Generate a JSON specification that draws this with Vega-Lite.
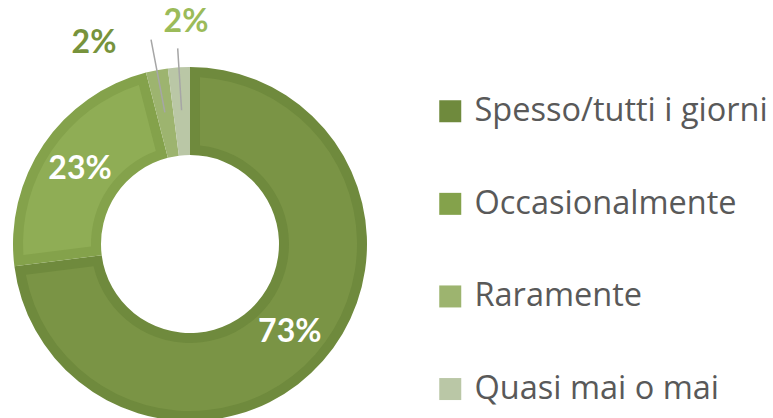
{
  "$schema": "https://vega.github.io/schema/vega-lite/v6.json",
  "width": 773,
  "height": 418,
  "padding": 0,
  "autosize": {"type": "none"},
  "background": "white",
  "data": {
    "values": [
      {"cat": "Spesso/tutti i giorni", "v": 73, "ord": 1, "label": "73%"},
      {"cat": "Occasionalmente", "v": 23, "ord": 2, "label": "23%"},
      {"cat": "Raramente", "v": 2, "ord": 3, "label": "2%"},
      {"cat": "Quasi mai o mai", "v": 2, "ord": 4, "label": "2%"}
    ]
  },
  "encoding": {
    "theta": {"field": "v", "type": "quantitative", "stack": true},
    "order": {"field": "ord", "type": "quantitative"},
    "x": {"value": 190},
    "y": {"value": 244}
  },
  "layer": [
    {
      "mark": {"type": "arc", "radius": 177, "radius2": 89},
      "encoding": {
        "color": {
          "field": "cat",
          "type": "nominal",
          "scale": {
            "domain": ["Spesso/tutti i giorni", "Occasionalmente", "Raramente", "Quasi mai o mai"],
            "range": ["#6f8a3d", "#84a24b", "#9db46f", "#bac7a6"]
          },
          "legend": {
            "orient": "none",
            "legendX": 434,
            "legendY": 95,
            "title": null,
            "symbolType": "square",
            "symbolSize": 484,
            "symbolStrokeWidth": 0,
            "labelFont": "Open Sans",
            "labelFontSize": 32.5,
            "labelColor": "#595959",
            "rowPadding": 59.6,
            "labelOffset": 8,
            "labelLimit": 400
          }
        }
      }
    },
    {
      "mark": {"type": "arc", "radius": 167, "radius2": 99, "padAngle": 0.103},
      "encoding": {
        "color": {
          "field": "cat",
          "type": "nominal",
          "scale": {
            "domain": ["Spesso/tutti i giorni", "Occasionalmente", "Raramente", "Quasi mai o mai"],
            "range": ["#7a9445", "#8fad55", "#9db46f", "#bac7a6"]
          },
          "legend": null
        },
        "fillOpacity": {"condition": {"test": "datum.v < 5", "value": 0}, "value": 1}
      }
    },
    {
      "mark": {"type": "arc", "radius": 208, "radius2": 134, "padAngle": 1.2, "fillOpacity": 0, "stroke": "#a6a6a6", "strokeWidth": 1.5},
      "encoding": {
        "strokeOpacity": {"condition": {"test": "datum.cat === 'Raramente'", "value": 1}, "value": 0}
      }
    },
    {
      "mark": {"type": "arc", "radius": 196, "radius2": 134, "padAngle": 1.2, "fillOpacity": 0, "stroke": "#a6a6a6", "strokeWidth": 1.5},
      "encoding": {
        "strokeOpacity": {"condition": {"test": "datum.cat === 'Quasi mai o mai'", "value": 1}, "value": 0}
      }
    },
    {
      "mark": {"type": "text", "radius": 133, "font": "Lato", "fontWeight": "bold", "fontSize": 32, "color": "white", "baseline": "middle", "align": "center"},
      "encoding": {
        "text": {"condition": {"test": "datum.v > 5", "field": "label"}, "value": ""}
      }
    },
    {
      "mark": {"type": "text", "radius": 215, "dx": -55.7, "dy": 9.7, "font": "Lato", "fontWeight": "bold", "fontSize": 32, "color": "#77933c", "baseline": "middle", "align": "center"},
      "encoding": {
        "text": {"condition": {"test": "datum.cat === 'Raramente'", "field": "label"}, "value": ""}
      }
    },
    {
      "mark": {"type": "text", "radius": 215, "dx": 9.5, "dy": -7, "font": "Lato", "fontWeight": "bold", "fontSize": 32, "color": "#9bbb59", "baseline": "middle", "align": "center"},
      "encoding": {
        "text": {"condition": {"test": "datum.cat === 'Quasi mai o mai'", "field": "label"}, "value": ""}
      }
    }
  ],
  "resolve": {"scale": {"color": "independent"}},
  "config": {"view": {"stroke": null}}
}
